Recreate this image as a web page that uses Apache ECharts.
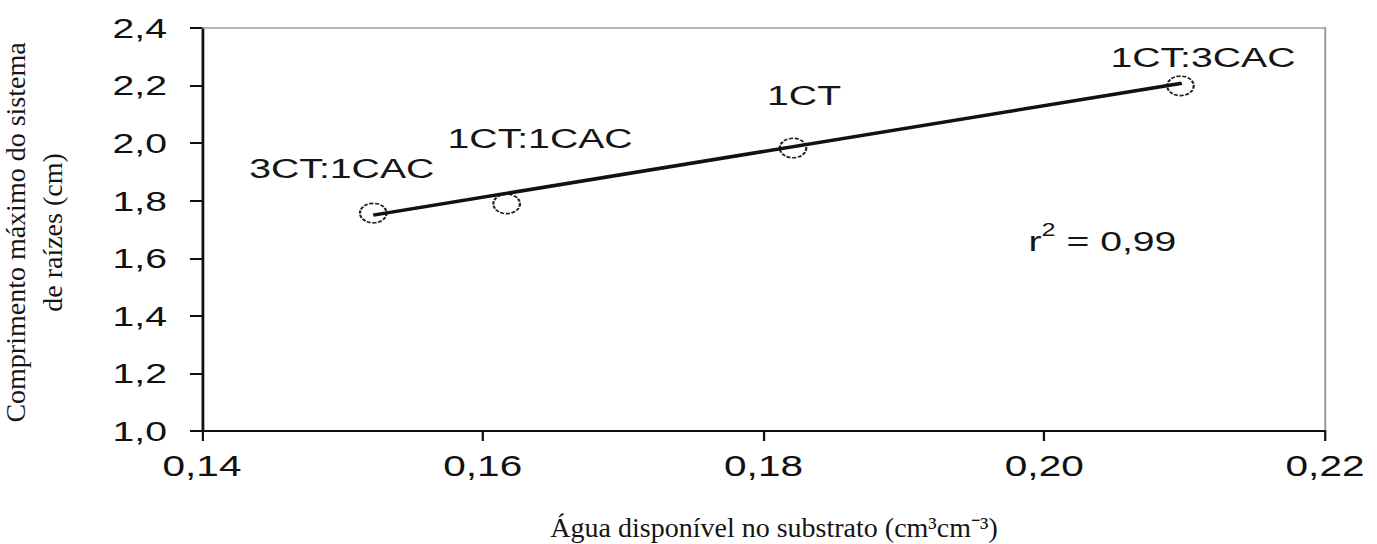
<!DOCTYPE html>
<html>
<head>
<meta charset="utf-8">
<script src="https://cdn.jsdelivr.net/npm/echarts@6/dist/echarts.min.js"></script>
<style>
  html, body { margin: 0; padding: 0; background: #fff; overflow: hidden; }
  #wrap { width: 1377px; height: 544px; overflow: hidden; }
  #main { width: 984px; height: 544px; transform-origin: 0 0; transform: scaleX(1.39939); }
</style>
</head>
<body>
<div id="wrap"><div id="main"></div></div>
<script>
// ---- data ----
const pointNames  = ['3CT:1CAC', '1CT:1CAC', '1CT', '1CT:3CAC'];
const waterAvail  = [0.1522, 0.1617, 0.1821, 0.2097];   // cm3 cm-3
const rootLength  = [1.757, 1.789, 1.983, 2.199];       // cm
const fitX        = [0.1522, 0.2098];
const fitY        = [1.750, 2.208];
const xTickLabels = ['0,14', '0,16', '0,18', '0,20', '0,22'];
const yTickLabels = ['1,0', '1,2', '1,4', '1,6', '1,8', '2,0', '2,2', '2,4'];
const r2Label     = 'r{s|2} = 0,99';
const xTitle      = 'Água disponível no substrato (cm³cm⁻³)';
const yTitle      = 'Comprimento máximo do sistema\nde raízes (cm)';

// ---- layout (not data) ----
const S = 1377 / 984;               // horizontal stretch of the reference
const labelOffsets = [[-22.5, -45], [23.9, -66], [7.9, -53], [16.1, -28.5]];
const SANS = "'Liberation Sans', Arial, sans-serif";
const SERIF = "'Liberation Serif', 'Times New Roman', serif";

const xMin = 0.14, xMax = 0.22, xStep = 0.02;
const yMin = 1.0, yMax = 2.4, yStep = 0.2;

const xLab = v => xTickLabels[Math.round((v - xMin) / xStep)] ?? '';
const yLab = v => yTickLabels[Math.round((v - yMin) / yStep)] ?? '';

const chart = echarts.init(document.getElementById('main'), null, { renderer: 'svg' });

const borderAxis = {
  show: true,
  axisLine: { show: true, lineStyle: { color: '#9a9a9a', width: 1.6, type: [1, 1] } },
  axisTick: { show: false }, axisLabel: { show: false }, splitLine: { show: false }
};

chart.setOption({
  animation: false,
  backgroundColor: '#fff',
  grid: { left: 144.35, right: 37.14, top: 28, bottom: 113 },
  xAxis: [{
    type: 'value', min: xMin, max: xMax, interval: xStep,
    axisLine: { show: true, onZero: false, lineStyle: { color: '#111', width: 2 } },
    axisTick: { show: true, inside: false, length: 10, lineStyle: { color: '#111', width: 1.6 } },
    axisLabel: { formatter: xLab, fontFamily: SANS, fontSize: 29, color: '#111', margin: 20 },
    splitLine: { show: false }
  }, Object.assign({ type: 'value', position: 'top', min: xMin, max: xMax }, borderAxis)],
  yAxis: [{
    type: 'value', min: yMin, max: yMax, interval: yStep,
    axisLine: { show: true, onZero: false, lineStyle: { color: '#111', width: 2 } },
    axisTick: { show: true, inside: false, length: 8.6, lineStyle: { color: '#111', width: 2 } },
    axisLabel: { formatter: yLab, fontFamily: SANS, fontSize: 28, color: '#111', margin: 25 },
    splitLine: { show: false }
  }, Object.assign({ type: 'value', position: 'right', min: yMin, max: yMax }, borderAxis)],
  series: [
    {
      type: 'scatter',
      symbol: 'circle',
      symbolSize: [19, 19.5],
      itemStyle: { color: '#fff', borderColor: '#222', borderWidth: 1.6, borderType: [3, 1.2], opacity: 1 },
      label: {
        show: true, position: 'inside', formatter: '{b}',
        fontFamily: SANS, fontSize: 28, color: '#151515',
        align: 'center', verticalAlign: 'middle'
      },
      data: waterAvail.map((x, i) => ({
        name: pointNames[i],
        value: [x, rootLength[i]],
        label: { offset: labelOffsets[i] }
      })),
      z: 2
    },
    {
      type: 'line',
      data: fitX.map((x, i) => [x, fitY[i]]),
      showSymbol: false,
      lineStyle: { color: '#111', width: 3.5 },
      z: 3
    }
  ],
  graphic: [
    {
      type: 'text', x: 787.8, y: 241,
      style: {
        text: r2Label, align: 'center', verticalAlign: 'middle',
        font: '28px ' + SANS, fill: '#151515', lineHeight: 40,
        rich: { s: { fontSize: 18, fontFamily: SANS, verticalAlign: 'top', lineHeight: 18 } }
      }
    },
    {
      type: 'text', x: 553.1, y: 527.5, scaleX: 1 / S,
      style: { text: xTitle, align: 'center', verticalAlign: 'middle', font: '28px ' + SERIF, fill: '#151515' }
    },
    {
      type: 'text', x: 34 / S, y: 232.5, rotation: Math.PI / 2, scaleY: 1 / S,
      style: { text: yTitle, align: 'center', verticalAlign: 'middle', font: '28px ' + SERIF, fill: '#151515', lineHeight: 36 }
    }
  ]
});
</script>
</body>
</html>
